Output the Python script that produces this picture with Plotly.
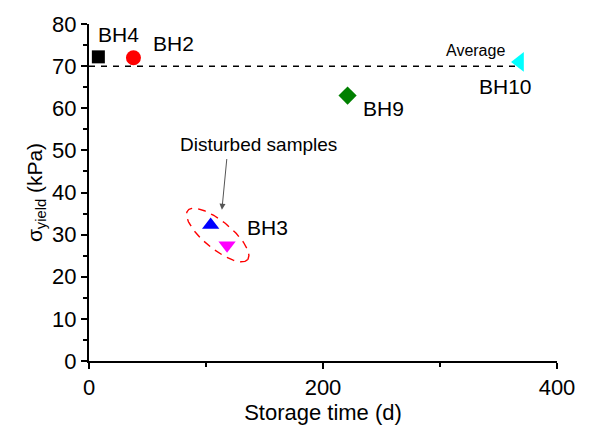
import numpy as np
import plotly.graph_objects as go

# ---- data ----
labels = ["BH4", "BH2", "BH9", "BH10", "BH3a", "BH3b"]
storage_days = [8, 38, 221, 368, 104, 118]
sigma_yield = [72.2, 72.0, 63.0, 71.0, 32.3, 27.5]
symbols = ["square", "circle", "diamond", "triangle-left", "triangle-up", "triangle-down"]
colors = ["#000000", "#ff0000", "#008000", "#00ffff", "#0000ff", "#ff00ff"]
sizes = [13, 15, 14, 17, 15, 15]
average_value = 70
average_end = 370

# ---- layout constants ----
W, H = 590, 432
ML, MR, MT, MB = 89, 33, 19, 70
XR = [0, 400]
YR = [0, 80]
pw = W - ML - MR
ph = H - MT - MB
dx_per_px = (XR[1] - XR[0]) / pw
dy_per_px = (YR[1] - YR[0]) / ph

fig = go.Figure()

# average line
fig.add_trace(go.Scatter(x=[0, average_end], y=[average_value, average_value], mode="lines",
                         line=dict(color="black", width=1.5, dash="6px,6px"),
                         showlegend=False, hoverinfo="skip"))

for xv, yv, s, c, sz in zip(storage_days, sigma_yield, symbols, colors, sizes):
    fig.add_trace(go.Scatter(x=[xv], y=[yv], mode="markers",
                             marker=dict(symbol=s, color=c, size=sz, line=dict(width=0)),
                             showlegend=False))

# ellipse around disturbed samples (defined in pixel space, converted to data)
ecx = (storage_days[4] + storage_days[5]) / 2 - 1
ecy = (sigma_yield[4] + sigma_yield[5]) / 2
a_px, b_px, theta = 39, 14, np.deg2rad(40)
t = np.linspace(0, 2 * np.pi, 200)
ex_px = a_px * np.cos(t) * np.cos(theta) - b_px * np.sin(t) * np.sin(theta)
ey_px = a_px * np.cos(t) * np.sin(theta) + b_px * np.sin(t) * np.cos(theta)
fig.add_trace(go.Scatter(x=ecx + ex_px * dx_per_px, y=ecy - ey_px * dy_per_px, mode="lines",
                         line=dict(color="#ff0000", width=1.4, dash="8px,6px"),
                         showlegend=False, hoverinfo="skip"))

font = "Liberation Sans, Arial, sans-serif"
text_annots = [
    ("BH4", 24.8, 77.4, 21),
    ("BH2", 72.6, 75.4, 21),
    ("Average", 330, 73.6, 16),
    ("BH10", 355.7, 65.1, 21),
    ("BH9", 251.8, 60.0, 21),
    ("BH3", 152.6, 31.8, 21),
    ("Disturbed samples", 144.5, 51.4, 19),
]
for txt, xa, ya, fs in text_annots:
    fig.add_annotation(x=xa, y=ya, text=txt, showarrow=False, xanchor="center", yanchor="middle",
                       font=dict(family=font, size=fs, color="black"))

# arrow pointing at the ellipse
fig.add_annotation(x=113.6, y=35.9, ax=117.9, ay=48.3, axref="x", ayref="y", text="",
                   showarrow=True, arrowhead=2, arrowsize=1.2, arrowwidth=1, arrowcolor="#555555")

axis_common = dict(showline=True, linecolor="black", linewidth=2, ticks="outside",
                   tickcolor="black", tickwidth=2, ticklen=6, showgrid=False, zeroline=False,
                   tickfont=dict(family=font, size=22, color="black"),
                   minor=dict(ticks="outside", ticklen=4, tickwidth=2, tickcolor="black"))

fig.update_xaxes(range=XR, tickvals=[0, 200, 400], minor_dtick=100,
                 title=dict(text="Storage time (d)", font=dict(family=font, size=22, color="black"), standoff=4),
                 **axis_common)
fig.update_yaxes(range=YR, tickvals=list(range(0, 81, 10)), minor_dtick=5,
                 title=dict(text="σ<sub>yield</sub> (kPa)", font=dict(family=font, size=21, color="black"), standoff=4),
                 **axis_common)

fig.update_layout(width=W, height=H, margin=dict(l=ML, r=MR, t=MT, b=MB),
                  plot_bgcolor="white", paper_bgcolor="white")

fig.write_html("out.html")
